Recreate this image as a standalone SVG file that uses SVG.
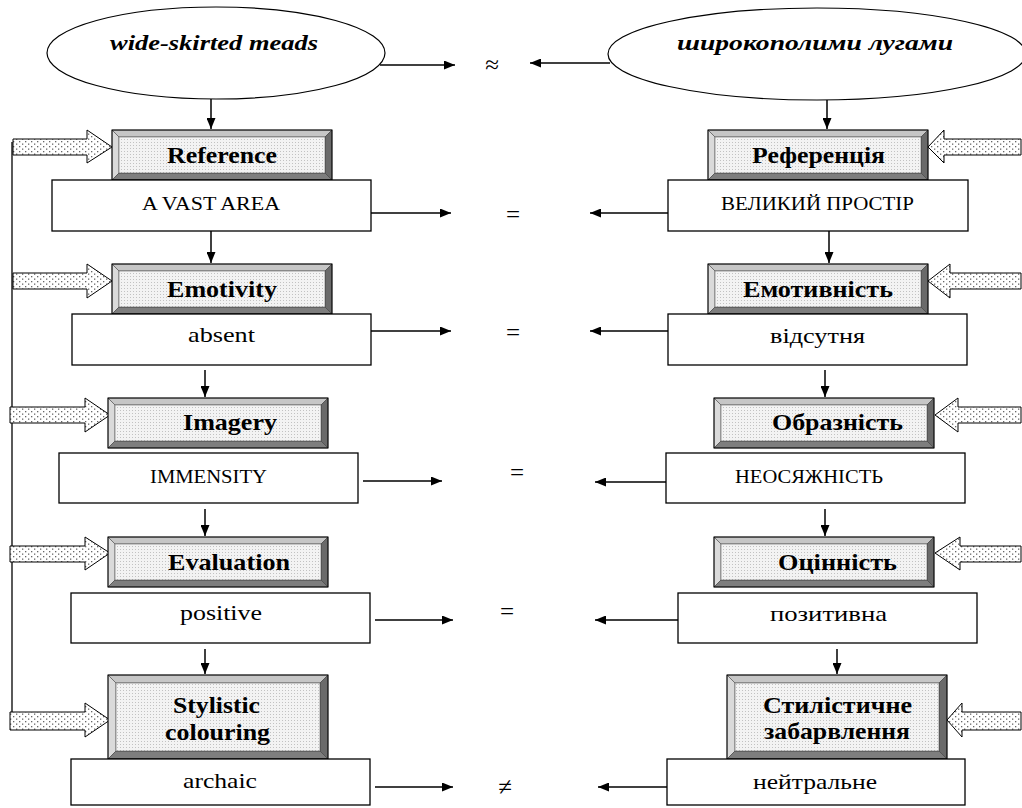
<svg xmlns="http://www.w3.org/2000/svg" xmlns:xlink="http://www.w3.org/1999/xlink" width="1022" height="808" viewBox="0 0 1022 808" font-family="'Liberation Serif', 'DejaVu Serif', serif">
<style>
text{font-family:'Liberation Serif','DejaVu Serif',serif;fill:#000}
.ell{fill:#fff;stroke:#000;stroke-width:1.2}
.et{font-size:20px;font-weight:bold;font-style:italic}
.bt{font-size:23px;font-weight:bold}
.box{fill:#fff;stroke:#000;stroke-width:1.3}
.cap{font-size:18px}
.low{font-size:21px}
.sym{font-size:25px;text-anchor:middle}
.con{stroke:#000;stroke-width:1.5;fill:none;marker-end:url(#ah)}
.line{stroke:#000;stroke-width:1.3;fill:none}
.blk{fill:url(#dots);stroke:#000;stroke-width:1}
</style>
<defs>
<marker id="ah" markerUnits="userSpaceOnUse" markerWidth="11" markerHeight="9" refX="11" refY="4.5" orient="auto">
<path d="M0,0 L11,4.5 L0,9 z" fill="#000"/>
</marker>
<pattern id="dots" width="6" height="5" patternUnits="userSpaceOnUse">
<rect width="6" height="5" fill="#fff"/>
<rect x="1" y="1" width="1.3" height="1.3" fill="#666"/>
<rect x="4" y="3.5" width="1.3" height="1.3" fill="#666"/>
</pattern>
<pattern id="face" width="3" height="3" patternUnits="userSpaceOnUse">
<rect width="3" height="3" fill="#f3f3f3"/>
<rect width="1" height="1" fill="#c2c2c2"/>
</pattern>
<g id="bev50">
<polygon points="0,0 220,0 213,7 7,7" fill="#c6c6c6" stroke="#333" stroke-width="0.5"/>
<polygon points="0,0 7,7 7,43 0,50" fill="#dadada" stroke="#333" stroke-width="0.5"/>
<polygon points="220,0 220,50 213,43 213,7" fill="#6a6a6a" stroke="#333" stroke-width="0.5"/>
<polygon points="0,50 7,43 213,43 220,50" fill="#7e7e7e" stroke="#333" stroke-width="0.5"/>
<rect x="7" y="7" width="206" height="36" fill="url(#face)" stroke="#444" stroke-width="0.5"/>
<rect x="0" y="0" width="220" height="50" fill="none" stroke="#000" stroke-width="1"/>
</g>
<g id="bev84">
<polygon points="0,0 220,0 212,8 8,8" fill="#c6c6c6" stroke="#333" stroke-width="0.5"/>
<polygon points="0,0 8,8 8,76 0,84" fill="#dadada" stroke="#333" stroke-width="0.5"/>
<polygon points="220,0 220,84 212,76 212,8" fill="#6a6a6a" stroke="#333" stroke-width="0.5"/>
<polygon points="0,84 8,76 212,76 220,84" fill="#7e7e7e" stroke="#333" stroke-width="0.5"/>
<rect x="8" y="8" width="204" height="68" fill="url(#face)" stroke="#444" stroke-width="0.5"/>
<rect x="0" y="0" width="220" height="84" fill="none" stroke="#000" stroke-width="1"/>
</g>
</defs>
<rect width="1022" height="808" fill="#fff"/>

<g id="connectors">
<line class="line" x1="12" y1="142" x2="12" y2="716"/>
<line class="con" x1="380" y1="65" x2="455" y2="65"/>
<line class="con" x1="610" y1="63" x2="530" y2="63"/>
<line class="con" x1="371" y1="213" x2="451" y2="213"/>
<line class="con" x1="668" y1="213" x2="590" y2="213"/>
<line class="con" x1="371" y1="331" x2="451" y2="331"/>
<line class="con" x1="668" y1="331" x2="590" y2="331"/>
<line class="con" x1="363" y1="481" x2="442" y2="481"/>
<line class="con" x1="666" y1="482" x2="595" y2="482"/>
<line class="con" x1="375" y1="620" x2="453" y2="620"/>
<line class="con" x1="678" y1="620" x2="595" y2="620"/>
<line class="con" x1="375" y1="787" x2="453" y2="787"/>
<line class="con" x1="672" y1="787" x2="598" y2="787"/>
<line class="con" x1="211" y1="99" x2="211" y2="129"/>
<line class="con" x1="211" y1="231" x2="211" y2="263"/>
<line class="con" x1="205" y1="370" x2="205" y2="397"/>
<line class="con" x1="205" y1="509" x2="205" y2="536"/>
<line class="con" x1="205" y1="649" x2="205" y2="674"/>
<line class="con" x1="827" y1="100" x2="827" y2="129"/>
<line class="con" x1="829" y1="231" x2="829" y2="263"/>
<line class="con" x1="825" y1="370" x2="825" y2="397"/>
<line class="con" x1="825" y1="509" x2="825" y2="536"/>
<line class="con" x1="837" y1="649" x2="837" y2="674"/>
<polygon class="blk" points="13,139 87,139 87,130 112,147 87,163 87,155 13,155"/>
<polygon class="blk" points="13,273 87,273 87,264 112,281 87,298 87,289 13,289"/>
<polygon class="blk" points="10,407 85,407 85,398 110,415 85,432 85,423 10,423"/>
<polygon class="blk" points="10,546 85,546 85,537 110,553 85,570 85,562 10,562"/>
<polygon class="blk" points="10,712 85,712 85,703 110,720 85,737 85,730 10,730"/>
<polygon class="blk" points="1021,139 944,139 944,130 928,147 944,163 944,155 1021,155"/>
<polygon class="blk" points="1021,273 950,273 950,264 928,281 950,298 950,289 1021,289"/>
<polygon class="blk" points="1021,407 958,407 958,398 935,415 958,432 958,423 1021,423"/>
<polygon class="blk" points="1021,546 960,546 960,537 935,553 960,570 960,562 1021,562"/>
<polygon class="blk" points="1021,712 962,712 962,703 947,720 962,737 962,730 1021,730"/>
<text class="sym" x="492" y="73">≈</text>
<text class="sym" x="513" y="223">=</text>
<text class="sym" x="513" y="341">=</text>
<text class="sym" x="517" y="481">=</text>
<text class="sym" x="507" y="620">=</text>
<text class="sym" x="505" y="795">≠</text>
</g>

<g id="src-word">
<ellipse class="ell" cx="216" cy="53" rx="169" ry="46"/>
<text class="et" x="110" y="50" textLength="208" lengthAdjust="spacingAndGlyphs">wide-skirted meads</text>
</g>
<g id="tgt-word">
<ellipse class="ell" cx="817" cy="54" rx="209" ry="46"/>
<text class="et" x="677" y="50" textLength="276" lengthAdjust="spacingAndGlyphs">широкополими лугами</text>
</g>

<g id="ref-en"><use xlink:href="#bev50" x="112" y="130"/><text class="bt" x="167" y="163" textLength="110" lengthAdjust="spacingAndGlyphs">Reference</text></g>
<g id="ref-uk"><use xlink:href="#bev50" x="708" y="130"/><text class="bt" x="752" y="163" textLength="133" lengthAdjust="spacingAndGlyphs">Референція</text></g>
<g id="emo-en"><use xlink:href="#bev50" x="112" y="264"/><text class="bt" x="167" y="297" textLength="110" lengthAdjust="spacingAndGlyphs">Emotivity</text></g>
<g id="emo-uk"><use xlink:href="#bev50" x="708" y="264"/><text class="bt" x="743" y="297" textLength="150" lengthAdjust="spacingAndGlyphs">Емотивність</text></g>
<g id="img-en"><use xlink:href="#bev50" x="108" y="398"/><text class="bt" x="183" y="430" textLength="94" lengthAdjust="spacingAndGlyphs">Imagery</text></g>
<g id="img-uk"><use xlink:href="#bev50" x="714" y="398"/><text class="bt" x="772" y="430" textLength="131" lengthAdjust="spacingAndGlyphs">Образність</text></g>
<g id="eval-en"><use xlink:href="#bev50" x="108" y="537"/><text class="bt" x="168" y="570" textLength="122" lengthAdjust="spacingAndGlyphs">Evaluation</text></g>
<g id="eval-uk"><use xlink:href="#bev50" x="714" y="537"/><text class="bt" x="778" y="570" textLength="119" lengthAdjust="spacingAndGlyphs">Оцінність</text></g>
<g id="style-en"><use xlink:href="#bev84" x="108" y="675"/><text class="bt" x="173" y="713" textLength="87" lengthAdjust="spacingAndGlyphs">Stylistic</text><text class="bt" x="165" y="740" textLength="105" lengthAdjust="spacingAndGlyphs">colouring</text></g>
<g id="style-uk"><use xlink:href="#bev84" x="727" y="675"/><text class="bt" x="763" y="713" textLength="149" lengthAdjust="spacingAndGlyphs">Стилістичне</text><text class="bt" x="764" y="739" textLength="146" lengthAdjust="spacingAndGlyphs">забарвлення</text></g>

<g id="val-ref-en"><rect class="box" x="52" y="180" width="319" height="51"/><text class="cap" x="142" y="210" textLength="138" lengthAdjust="spacingAndGlyphs">A VAST AREA</text></g>
<g id="val-ref-uk"><rect class="box" x="668" y="180" width="300" height="51"/><text class="cap" x="721" y="210" textLength="193" lengthAdjust="spacingAndGlyphs">ВЕЛИКИЙ ПРОСТІР</text></g>
<g id="val-emo-en"><rect class="box" x="72" y="314" width="299" height="51"/><text class="low" x="188" y="342" textLength="67" lengthAdjust="spacingAndGlyphs">absent</text></g>
<g id="val-emo-uk"><rect class="box" x="668" y="314" width="299" height="51"/><text class="low" x="770" y="343" textLength="95" lengthAdjust="spacingAndGlyphs">відсутня</text></g>
<g id="val-img-en"><rect class="box" x="59" y="453" width="299" height="50"/><text class="cap" x="150" y="483" textLength="117" lengthAdjust="spacingAndGlyphs">IMMENSITY</text></g>
<g id="val-img-uk"><rect class="box" x="666" y="453" width="299" height="50"/><text class="cap" x="735" y="483" textLength="148" lengthAdjust="spacingAndGlyphs">НЕОСЯЖНІСТЬ</text></g>
<g id="val-eval-en"><rect class="box" x="71" y="593" width="299" height="50"/><text class="low" x="180" y="620" textLength="82" lengthAdjust="spacingAndGlyphs">positive</text></g>
<g id="val-eval-uk"><rect class="box" x="678" y="593" width="299" height="50"/><text class="low" x="770" y="621" textLength="117" lengthAdjust="spacingAndGlyphs">позитивна</text></g>
<g id="val-style-en"><rect class="box" x="71" y="759" width="299" height="46"/><text class="low" x="183" y="788" textLength="74" lengthAdjust="spacingAndGlyphs">archaic</text></g>
<g id="val-style-uk"><rect class="box" x="667" y="759" width="298" height="46"/><text class="low" x="753" y="789" textLength="124" lengthAdjust="spacingAndGlyphs">нейтральне</text></g>
</svg>
